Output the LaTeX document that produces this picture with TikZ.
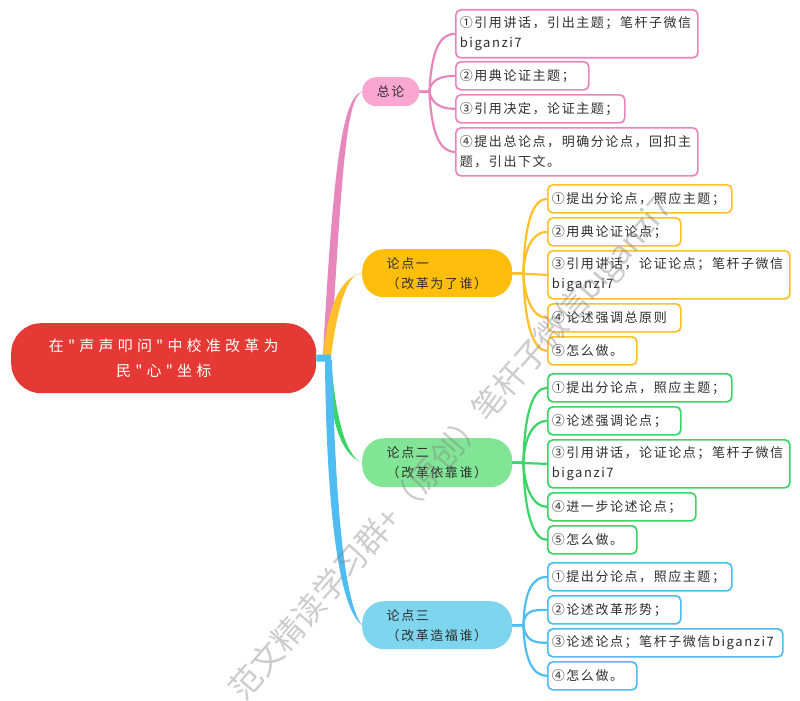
\documentclass[tikz,border=0pt]{standalone}
\usepackage{fontspec}
\newfontfamily\cjk[LetterSpace=12]{Noto Sans CJK SC}
\newfontfamily\cjkroot[LetterSpace=28]{Noto Sans CJK SC}
\newfontfamily\cjkmark{Noto Sans CJK SC}
\definecolor{rootred}{HTML}{E53935}
\definecolor{pinkfill}{HTML}{F9A6D0}
\definecolor{pinkline}{HTML}{E887BC}
\definecolor{yellowfill}{HTML}{FFBE0B}
\definecolor{yellowline}{HTML}{FFC02A}
\definecolor{greenfill}{HTML}{82E596}
\definecolor{greenline}{HTML}{3AD467}
\definecolor{bluefill}{HTML}{7DD6EE}
\definecolor{blueline}{HTML}{4FBCF2}
\definecolor{inkgray}{HTML}{2F2F2F}
\tikzset{
  x=1pt, y=-1pt,
  mapbox/.style={draw, fill=white, rounded corners=5pt, line width=1.7pt, anchor=north west, align=left,
    inner xsep=4pt, inner ysep=0pt, text=inkgray, font=\cjk\fontsize{13}{20}\selectfont},
  onebox/.style={mapbox, minimum height=28pt},
  twobox/.style={mapbox, minimum height=48pt},
  topicbox/.style={rounded corners=14pt, anchor=north west, align=left, inner sep=0pt, text=inkgray,
    font=\cjk\fontsize{13}{20}\selectfont},
  twig/.style={line width=2.2pt}
}
\begin{document}
\begin{tikzpicture}
  \useasboundingbox (0,0) rectangle (800,701);

  \node[anchor=north west, fill=rootred, rounded corners=30pt, minimum width=305pt, minimum height=70pt, inner sep=0pt,
    align=center, text=white, font=\cjkroot\fontsize{15}{25}\selectfont] (root) at (11,323) {在"声声叩问"中校准改革为\\民"心"坐标};
  \coordinate (hub) at (327,358);

  \node[topicbox, fill=pinkfill, minimum width=57pt, minimum height=29pt, align=center] (zonglun) at (362,77) {总论};
  \node[topicbox, fill=yellowfill, minimum width=150pt, minimum height=48pt, rounded corners=22pt, text width=125pt] (lunone) at (362,249) {\hspace*{12pt}论点一\\\hspace*{12pt}（改革为了谁）};
  \node[topicbox, fill=greenfill, minimum width=150pt, minimum height=49pt, rounded corners=22pt, text width=125pt] (luntwo) at (362,438) {\hspace*{12pt}论点二\\\hspace*{12pt}（改革依靠谁）};
  \node[topicbox, fill=bluefill, minimum width=150pt, minimum height=48pt, rounded corners=22pt, text width=125pt] (lunthree) at (362,601) {\hspace*{12pt}论点三\\\hspace*{12pt}（改革造福谁）};

  \fill[pinkline] (331,355) .. controls (342,170) and (346,100) .. (zonglun.west) .. controls (342,97) and (333,170) .. (323,355) -- cycle;
  \fill[yellowline] (331,356) .. controls (337,310) and (347,272) .. (lunone.west) .. controls (338,278) and (328,310) .. (323,356) -- cycle;
  \fill[greenline] (331,360) .. controls (336,420) and (346,456) .. (luntwo.west) .. controls (339,453) and (331,420) .. (326,360) -- cycle;
  \fill[blueline] (332,360) .. controls (335,480) and (342,600) .. (lunthree.west) .. controls (335,605) and (326,480) .. (325,360) -- cycle;
  \draw[blueline, line width=7pt] (root.east) -- (hub) -- ++(4,0);

  \begin{scope}[every node/.append style={draw=pinkline}]
    \node[twobox, text width=234pt] (pa) at (455,9) {①引用讲话，引出主题；笔杆子微信\\biganzi7};
    \node[onebox, text width=125pt] (pb) at (455,61) {②用典论证主题；};
    \node[onebox, text width=161pt] (pc) at (455,94) {③引用决定，论证主题；};
    \node[twobox, text width=234pt] (pd) at (455,127) {④提出总论点，明确分论点，回扣主\\题，引出下文。};
  \end{scope}
  \begin{scope}[every node/.append style={draw=yellowline}]
    \node[onebox, text width=176pt] (ya) at (547,184) {①提出分论点，照应主题；};
    \node[onebox, text width=125pt] (yb) at (547,217) {②用典论证论点；};
    \node[twobox, text width=234pt] (yc) at (547,250) {③引用讲话，论证论点；笔杆子微信\\biganzi7};
    \node[onebox, text width=125pt] (yd) at (547,303) {④论述强调总原则};
    \node[onebox, text width=81pt] (ye) at (547,336) {⑤怎么做。};
  \end{scope}
  \begin{scope}[every node/.append style={draw=greenline}]
    \node[onebox, text width=176pt] (ga) at (547,373) {①提出分论点，照应主题；};
    \node[onebox, text width=125pt] (gb) at (547,406) {②论述强调论点；};
    \node[twobox, text width=234pt] (gc) at (547,439) {③引用讲话，论证论点；笔杆子微信\\biganzi7};
    \node[onebox, text width=140pt] (gd) at (547,492) {④进一步论述论点；};
    \node[onebox, text width=81pt] (ge) at (547,525) {⑤怎么做。};
  \end{scope}
  \begin{scope}[every node/.append style={draw=blueline}]
    \node[onebox, text width=176pt] (ba) at (547,562) {①提出分论点，照应主题；};
    \node[onebox, text width=125pt] (bb) at (547,595) {②论述改革形势；};
    \node[onebox, text width=227pt] (bc) at (547,628) {③论述论点；笔杆子微信biganzi7};
    \node[onebox, text width=81pt] (bd) at (547,661) {④怎么做。};
  \end{scope}

  \draw[twig, pinkline] (zonglun.east) -- ++(10,0) .. controls +(2,-40) and +(-16,0) .. (pa.west);
  \draw[twig, pinkline] (zonglun.east) -- ++(10,0) .. controls +(1,-12) and +(-14,0) .. (pb.west);
  \draw[twig, pinkline] (zonglun.east) -- ++(10,0) .. controls +(2,12) and +(-14,0) .. (pc.west);
  \draw[twig, pinkline] (zonglun.east) -- ++(10,0) .. controls +(2,40) and +(-16,0) .. (pd.west);

  \draw[twig, yellowline] (lunone.east) -- ++(11,0) .. controls +(1,-50) and +(-14,0) .. (ya.west);
  \draw[twig, yellowline] (lunone.east) -- ++(11,0) .. controls +(1,-25) and +(-14,0) .. (yb.west);
  \draw[twig, yellowline] (lunone.east) -- (yc.west);
  \draw[twig, yellowline] (lunone.east) -- ++(11,0) .. controls +(1,25) and +(-14,0) .. (yd.west);
  \draw[twig, yellowline] (lunone.east) -- ++(11,0) .. controls +(1,50) and +(-14,0) .. (ye.west);

  \draw[twig, greenline] (luntwo.east) -- ++(11,0) .. controls +(1,-50) and +(-14,0) .. (ga.west);
  \draw[twig, greenline] (luntwo.east) -- ++(11,0) .. controls +(1,-25) and +(-14,0) .. (gb.west);
  \draw[twig, greenline] (luntwo.east) -- (gc.west);
  \draw[twig, greenline] (luntwo.east) -- ++(11,0) .. controls +(1,25) and +(-14,0) .. (gd.west);
  \draw[twig, greenline] (luntwo.east) -- ++(11,0) .. controls +(1,50) and +(-14,0) .. (ge.west);

  \draw[twig, blueline] (lunthree.east) -- ++(11,0) .. controls +(1,-35) and +(-14,0) .. (ba.west);
  \draw[twig, blueline] (lunthree.east) -- ++(11,0) .. controls +(1,-15) and +(-14,0) .. (bb.west);
  \draw[twig, blueline] (lunthree.east) -- ++(11,0) .. controls +(2,15) and +(-14,0) .. (bc.west);
  \draw[twig, blueline] (lunthree.east) -- ++(11,0) .. controls +(1,35) and +(-14,0) .. (bd.west);

  \node[rotate=49, text=gray, opacity=.4, font=\cjkmark\fontsize{32}{32}\selectfont] (watermark) at (452,449) {范文精读学习群+（原创）笔杆子微信biganzi7};
\end{tikzpicture}
\end{document}
